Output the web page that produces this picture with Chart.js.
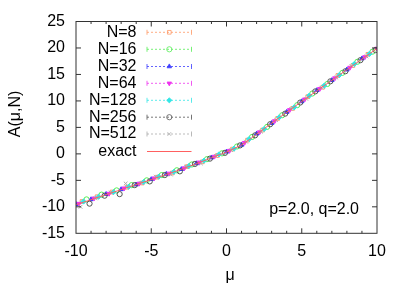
<!DOCTYPE html>
<html>
<head>
<meta charset="utf-8">
<script src="https://cdn.jsdelivr.net/npm/chart.js@4"></script>
<style>
  html, body { margin:0; padding:0; background:#fff; }
  canvas { display:block; }
</style>
</head>
<body>
<canvas id="c" width="407" height="285"></canvas>
<script>
// series values (mu, A(mu,N))
const mu8   = [-9.6,-8.6,-7.6,-6.6,-5.6,-4.6,-3.6,-2.6,-1.6,-0.6,0.4,1.4,2.4,3.4,4.4,5.4,6.4,7.4,8.4,9.4];
const a8    = [-9.0,-8.1,-7.2,-6.3,-5.5,-4.4,-3.6,-2.4,-1.5,-0.3,0.9,2.6,4.5,6.7,8.6,10.8,12.6,14.8,16.7,18.8];
const mu16  = [-9.3,-8.3,-7.3,-6.3,-5.3,-4.3,-3.3,-2.3,-1.3,-0.3,0.7,1.7,2.7,3.7,4.7,5.7,6.7,7.7,8.7,9.7];
const a16   = [-8.6,-7.7,-6.9,-5.9,-5.0,-4.0,-3.1,-2.0,-1.0,0.1,1.4,3.2,5.1,7.3,9.2,11.4,13.2,15.3,17.4,19.3];
const mu32  = [-10,-9,-8,-7,-6,-5,-4,-3,-2,-1,0,1,2,3,4,5,6,7,8,9];
const a32   = [-9.5,-8.6,-7.6,-6.7,-5.8,-4.8,-3.8,-2.9,-1.8,-0.7,0.4,1.7,3.8,5.8,7.9,9.9,12.0,13.9,15.9,18.0];
const mu64  = [-9.8,-8.8,-7.8,-6.8,-5.8,-4.8,-3.8,-2.8,-1.8,-0.8,0.2,1.2,2.2,3.2,4.2,5.2,6.2,7.2,8.2,9.2,10];
const a64   = [-9.4,-8.4,-7.5,-6.5,-5.6,-4.6,-3.7,-2.7,-1.6,-0.5,0.6,2.1,4.1,6.2,8.3,10.3,12.3,14.3,16.3,18.3,19.9];
const mu128 = [-9.5,-8.5,-7.5,-6.5,-5.5,-4.5,-3.5,-2.5,-1.5,-0.5,0.5,1.5,2.5,3.5,4.5,5.5,6.5,7.5,8.5,9.5];
const a128  = [-9.0,-8.1,-7.2,-6.2,-5.3,-4.3,-3.4,-2.3,-1.3,-0.1,1.0,2.8,4.7,6.9,8.8,11.0,12.9,14.9,17.0,18.9];
const mu256 = [-9.1,-8.1,-7.1,-6.1,-5.1,-4.1,-3.1,-2.1,-1.1,-0.1,0.9,1.9,2.9,3.9,4.9,5.9,6.9,7.9,8.9,9.9];
const a256  = [-9.4,-7.9,-7.6,-5.9,-5.2,-4.0,-3.3,-1.9,-0.9,0.2,1.6,3.5,5.6,7.6,9.7,11.8,13.7,15.6,17.7,19.6];
const mu512 = [-9.7,-8.7,-7.7,-6.7,-5.7,-4.7,-3.7,-2.7,-1.7,-0.7,0.3,1.3,2.3,3.3,4.3,5.3,6.3,7.3,8.3,9.3];
const a512  = [-10.0,-8.4,-7.3,-5.6,-5.5,-4.3,-3.9,-2.4,-1.8,-0.4,0.7,2.3,4.2,6.4,8.5,10.4,12.5,14.4,16.6,18.4];
const muExact = [-10,-9,-8,-7,-6,-5,-4,-3,-2,-1,-0.5,0,0.5,1,1.5,2,3,4,5,6,7,8,9,10];
const aExact  = [-9.6,-8.65,-7.7,-6.75,-5.8,-4.85,-3.9,-2.9,-1.85,-0.75,-0.2,0.35,1.0,1.7,2.65,3.7,5.8,7.85,9.9,11.9,13.9,15.9,17.9,19.9];

const xTicks = [-10,-5,0,5,10];
const yTicks = [-15,-10,-5,0,5,10,15,20,25];

const FONT = "'Liberation Sans', Arial, sans-serif";
Chart.defaults.font.family = FONT;
Chart.defaults.font.size = 16;
Chart.defaults.color = '#000';

const zip = (xs, ys) => xs.map((x, i) => ({ x, y: ys[i] }));
const EXACT_COL = '#ff6060';

const series = [
  { label:'N=8',   mu:mu8,   a:a8,   col:'#ff9966', style:'rect',      fill:false, rot:0 },
  { label:'N=16',  mu:mu16,  a:a16,  col:'#55ee55', style:'circle',    fill:false, rot:0 },
  { label:'N=32',  mu:mu32,  a:a32,  col:'#3c3cff', style:'triangle',  fill:true,  rot:0 },
  { label:'N=64',  mu:mu64,  a:a64,  col:'#ee33ee', style:'triangle',  fill:true,  rot:180 },
  { label:'N=128', mu:mu128, a:a128, col:'#33e6e6', style:'rectRot',   fill:true,  rot:0 },
  { label:'N=256', mu:mu256, a:a256, col:'#555555', style:'circle',    fill:false, rot:0 },
  { label:'N=512', mu:mu512, a:a512, col:'#aaaaaa', style:'crossRot',  fill:false, rot:0 },
];

const datasets = series.map((s, i) => ({
  label: s.label,
  data: zip(s.mu, s.a),
  borderColor: s.col,
  backgroundColor: s.fill ? s.col : 'rgba(0,0,0,0)',
  pointStyle: s.style, pointRotation: s.rot,
  pointRadius: 2.6, pointBorderWidth: 1,
  showLine: false,
  order: series.length - i,
}));
datasets.push({
  label: 'exact',
  data: zip(muExact, aExact),
  borderColor: EXACT_COL, borderWidth: 1,
  pointRadius: 0, showLine: true, tension: 0.3,
  order: 0,
});

// gnuplot-like frame, inward ticks, legend and labels
const frame = {
  id: 'frame',
  afterDraw(chart) {
    const ctx = chart.ctx, { left, right, top, bottom } = chart.chartArea;
    const xs = chart.scales.x, ys = chart.scales.y;
    ctx.save();
    ctx.strokeStyle = '#333'; ctx.lineWidth = 1;
    ctx.strokeRect(left, top, right - left, bottom - top);
    ctx.beginPath();
    for (let v = -9; v <= 9; v++) {
      const px = xs.getPixelForValue(v), len = v % 5 === 0 ? 5 : 2.5;
      ctx.moveTo(px, bottom); ctx.lineTo(px, bottom - len);
      ctx.moveTo(px, top); ctx.lineTo(px, top + len);
    }
    yTicks.slice(1, -1).forEach(v => {
      const py = ys.getPixelForValue(v);
      ctx.moveTo(left, py); ctx.lineTo(left + 5, py);
      ctx.moveTo(right, py); ctx.lineTo(right - 5, py);
    });
    ctx.stroke();

    // legend
    const rows = [32.3, 49.3, 66.5, 83.3, 100.3, 117.2, 134, 151.5];
    const tx = 136.5, l0 = 147, l1 = 191.5, mx = 169.3;
    ctx.font = '16px ' + FONT;
    ctx.textAlign = 'right'; ctx.textBaseline = 'middle';
    series.forEach((s, i) => {
      const y = rows[i];
      ctx.fillStyle = '#000';
      ctx.fillText(s.label, tx, y);
      ctx.strokeStyle = s.col; ctx.lineWidth = 0.8; ctx.setLineDash([2, 2]);
      ctx.beginPath(); ctx.moveTo(l0, y); ctx.lineTo(l1, y); ctx.stroke();
      ctx.setLineDash([]);
      ctx.beginPath();
      ctx.moveTo(l0, y - 2.5); ctx.lineTo(l0, y + 2.5);
      ctx.moveTo(l1, y - 2.5); ctx.lineTo(l1, y + 2.5);
      ctx.stroke();
      ctx.fillStyle = s.fill ? s.col : 'rgba(0,0,0,0)';
      Chart.helpers.drawPoint(ctx, { pointStyle: s.style, rotation: s.rot, radius: 2.6, borderWidth: 1 }, mx, y);
    });
    ctx.fillStyle = '#000';
    ctx.fillText('exact', tx, rows[7]);
    ctx.setLineDash([]);
    ctx.strokeStyle = EXACT_COL; ctx.lineWidth = 1;
    ctx.beginPath(); ctx.moveTo(l0, rows[7]); ctx.lineTo(l1, rows[7]); ctx.stroke();

    ctx.fillStyle = '#000';
    ctx.fillText('p=2.0, q=2.0', 359, 210);

    ctx.textAlign = 'center';
    ctx.fillText('\u03bc', 230, 276);
    ctx.translate(16, 114); ctx.rotate(-Math.PI / 2);
    ctx.fillText('A(\u03bc,N)', 0, 0);
    ctx.restore();
  },
};

new Chart(document.getElementById('c'), {
  type: 'scatter',
  data: { datasets },
  options: {
    responsive: false, animation: false, devicePixelRatio: 1,
    layout: { padding: { top: 21.5, right: 30, left: 0, bottom: 0 } },
    plugins: { legend: { display: false }, tooltip: { enabled: false } },
    scales: {
      x: {
        type: 'linear', min: -10, max: 10,
        grid: { display: false, drawTicks: false }, border: { display: false },
        ticks: { stepSize: 5, padding: 9, maxRotation: 0, autoSkip: false },
        afterBuildTicks: s => { s.ticks = xTicks.map(v => ({ value: v })); },
        afterFit: s => { s.height = 51.7; },
      },
      y: {
        type: 'linear', min: -15, max: 25,
        grid: { display: false, drawTicks: false }, border: { display: false },
        ticks: { stepSize: 5, padding: 11 },
        afterBuildTicks: s => { s.ticks = yTicks.map(v => ({ value: v })); },
        afterFit: s => { s.width = 76; },
      },
    },
  },
  plugins: [frame],
});
</script>
</body>
</html>
